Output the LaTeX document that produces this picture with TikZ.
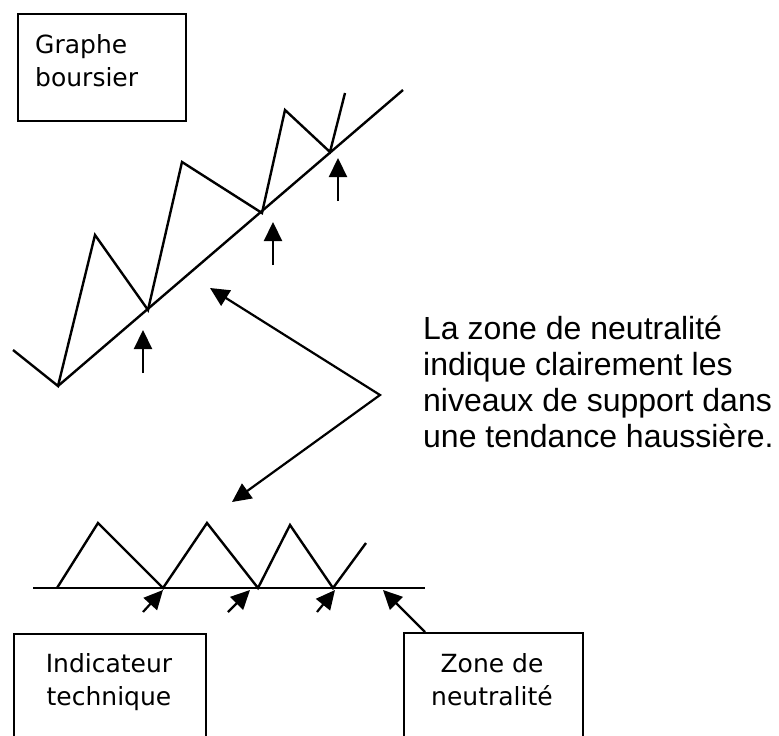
\documentclass[tikz,border=0pt]{standalone}
\usepackage{fontspec}
\setmainfont{Liberation Sans}
\newfontfamily\boxfont{DejaVu Sans}
\usetikzlibrary{arrows.meta}

\begin{document}
\begin{tikzpicture}[x=1pt, y=-1pt, >={Triangle[length=19pt, width=18pt]},
    line join=miter,
    courbe/.style={line width=2.4pt},
    fleche/.style={->, line width=2.2pt},
    cadre/.style={draw, line width=1.8pt, inner sep=0pt, anchor=north west},
    etiquette/.style={font=\boxfont\fontsize{25}{33}\selectfont, inner sep=0pt, anchor=north}]
    \useasboundingbox (0,0) rectangle (779,736);
    \clip (0,0) rectangle (779,736);

    % cadres
    \node[cadre, minimum width=168pt, minimum height=107pt] (graphe) at (17,13) {};
    \node[etiquette, anchor=north west, align=left] (graphetxt) at (35,34) {Graphe\\boursier};
    \node[cadre, minimum width=192pt, minimum height=120pt] (indic) at (13,633) {};
    \node[etiquette, align=center] (indictxt) at (109,653) {Indicateur\\technique};
    \node[cadre, minimum width=179pt, minimum height=120pt] (zone) at (403,632) {};
    \node[etiquette, align=center] (zonetxt) at (492,653) {Zone de\\neutralité};

    % graphe boursier
    \draw[courbe] (58,386) -- (403,90);
    \draw[courbe] (13,350) -- (58,386) -- (95,235) -- (148,310) -- (182,162)
        -- (262,213) -- (285,110) -- (330,152) -- (345,93);
    \foreach \x/\y [count=\i] in {143/330, 273/222, 338/158} {
        \coordinate (hautA\i) at (\x,\y+43);
        \coordinate (hautB\i) at (\x,\y);
        \draw[fleche] (hautA\i) -- (hautB\i);
    }

    % indicateur technique
    \draw[courbe] (33,588) -- (425,588);
    \draw[courbe] (57,588) -- (98,523) -- (163,588) -- (207,523) -- (258,588)
        -- (290,525) -- (333,588) -- (366,543);
    \foreach \x/\y [count=\i] in {143/163, 228/250, 317/335} {
        \coordinate (basA\i) at (\x,612);
        \coordinate (basB\i) at (\y,590);
        \draw[fleche] (basA\i) -- (basB\i);
    }
    \coordinate (neutre) at (383,590);
    \draw[fleche] ([xshift=22pt]zone.north west) -- (neutre);

    % texte
    \node[anchor=north west, align=left, inner sep=0pt,
          font=\fontsize{32}{36}\selectfont] (texte) at (423,316)
        {La zone de neutralité\\indique clairement les\\niveaux de support dans\\une tendance haussière.};
    \coordinate (sommet) at (380,395);
    \coordinate (support) at (210,288);
    \coordinate (zero) at (232,502);
    \draw[fleche, <->] (support) -- (sommet) -- (zero);
\end{tikzpicture}
\end{document}
